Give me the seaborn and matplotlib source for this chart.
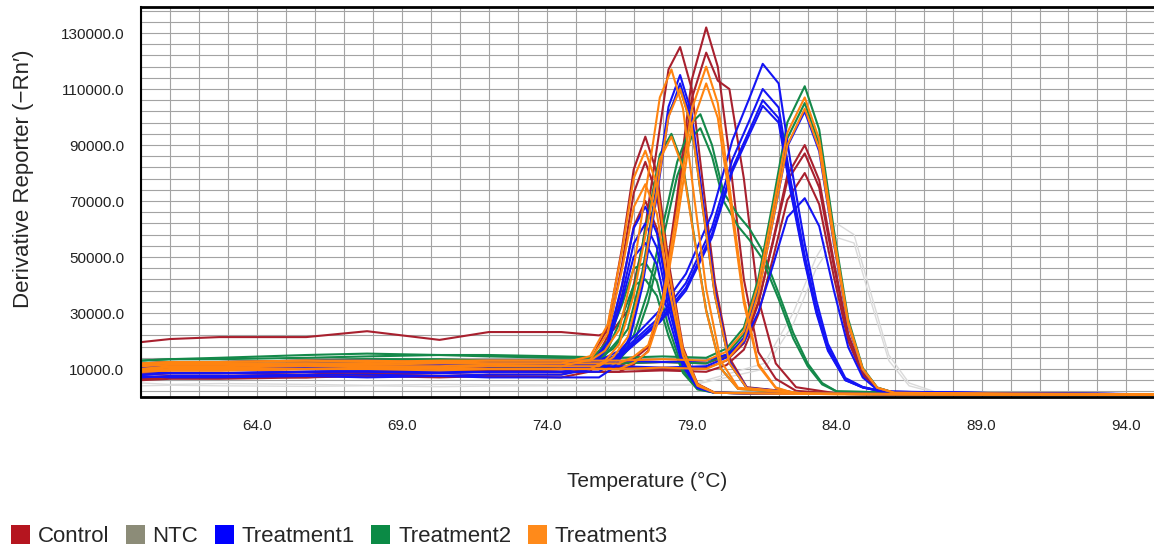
import numpy as np
import pandas as pd
import matplotlib
matplotlib.use("Agg")
import matplotlib.pyplot as plt
from matplotlib.patches import Patch
from matplotlib.ticker import FormatStrFormatter, MultipleLocator
import seaborn as sns

# ---------------- data (values in thousands of -Rn') ----------------
groups = ["Control", "NTC", "Treatment1", "Treatment2", "Treatment3"]

# shared temperature grids (°C)
base_T = [60, 61, 62.7, 65.7, 67.8, 70.3, 72, 74.5]
grid_A = [75.5, 76.1, 76.6, 77.0, 77.4, 77.8, 78.2, 78.7, 79.2, 79.8, 82, 86, 90, 95]
grid_B = [75.8, 76.3, 76.8, 77.3, 77.8, 78.2, 78.6, 79.0, 79.4, 79.8, 80.3, 80.9, 83, 88, 95]
grid_B2 = [75.5, 76.0, 76.5, 77.0, 77.5, 77.9, 78.3, 78.7, 79.1, 79.5, 80.0, 80.6, 83, 88, 95]
grid_C = [76.5, 77.0, 77.5, 78.0, 78.5, 79.0, 79.5, 79.9, 80.3, 80.8, 81.3, 81.9, 82.6, 84, 89, 95]
grid_D = [76.5, 78, 79.5, 80.2, 80.8, 81.3, 81.8, 82.3, 82.9, 83.4, 83.9, 84.4, 84.9, 85.4, 86.0, 90, 95]
grid_E = [75.8, 76.5, 77.2, 77.9, 78.8, 79.7, 80.4, 81.0, 81.45, 82.0, 82.4, 82.9, 83.3, 83.7,
          84.3, 84.9, 85.6, 90, 95]
grid_F = [76.0, 76.5, 77.0, 77.5, 78.0, 78.5, 79.0, 79.3, 79.7, 80.1, 80.6, 81.0, 81.4, 82.0,
          82.5, 83.0, 83.5, 84.0, 88, 95]
grid_N = [76, 79, 81.5, 82.5, 83.3, 84.0, 84.6, 85.1, 85.8, 86.5, 87.5, 90, 95]

# Control
control_grid = ["C", "B", "C", "A", "A", "A", "D", "D", "D"]
control_base = [
    [8, 8.5, 8.5, 9, 8.5, 9, 9.5, 9],
    [19.6, 20.7, 21.4, 21.4, 23.5, 20.4, 23.2, 23.2],
    [7, 7.5, 7.5, 7, 8, 8.5, 9, 10],
    [9, 9.5, 9.5, 10, 9.5, 10, 10.5, 10],
    [6.5, 7, 7, 7.5, 8, 7.5, 8, 8],
    [6, 6.5, 6.5, 7, 7.5, 7, 7.5, 7],
    [10, 10.5, 10.5, 10, 11, 10.5, 10, 10.5],
    [11, 11.5, 11.5, 12, 12, 11.5, 12, 12],
    [8, 8.5, 8.5, 8, 9, 9, 9.5, 9],
]
control_peak = [
    [9, 11.6, 16.5, 35.4, 71.9, 113.2, 132, 118, 86, 42, 16, 6.5, 2.2, 1.2, 1.0, 0.9],
    [22, 24, 31, 54, 89, 117, 125, 110, 75, 41, 14, 3.5, 1.2, 1.0, 0.9],
    [11, 13.5, 17.8, 35.2, 68.7, 106.5, 123, 113, 110, 78, 35, 12, 3.5, 1.3, 1.0, 0.9],
    [12.8, 24.8, 53.5, 81.3, 93, 80, 48.4, 17.7, 4.7, 1.5, 1.2, 1.0, 0.9, 0.8],
    [10.5, 21.5, 47.6, 72.9, 84, 72.2, 43.7, 16.1, 4.4, 1.5, 1.2, 1.0, 0.9, 0.8],
    [9.1, 18.2, 39.9, 60.9, 70, 60.2, 36.4, 13.6, 3.8, 1.5, 1.2, 1.0, 0.9, 0.8],
    [10.5, 10, 10.3, 13, 19.2, 33.4, 55.7, 79.2, 90, 77.4, 48.6, 22.5, 8.7, 3, 1.5, 1.2, 1.0],
    [12, 12.5, 12, 14.6, 20.4, 34, 55, 77.3, 87, 74.8, 47, 21.8, 8.4, 2.9, 1.5, 1.2, 1.0],
    [9, 9.5, 9, 11.4, 16.9, 29.6, 49.4, 70.4, 80, 68.8, 43.2, 20, 7.8, 2.8, 1.5, 1.2, 1.0],
]

# NTC
ntc_grid = ["N", "N"]
ntc_base = [
    [5, 4.5, 4.8, 4.5, 4.2, 4.5, 4.4, 4.3],
    [4, 4.2, 4, 3.8, 4, 3.7, 3.9, 4],
]
ntc_peak = [
    [4.3, 4.5, 12, 30, 50, 62, 58, 40, 15, 5, 1.5, 1.0, 0.9],
    [4, 4.2, 10, 26, 46, 57, 55, 37, 13, 4, 1.3, 1.0, 0.9],
]

# Treatment1
t1_grid = ["B", "B", "E", "E", "E", "E", "D", "D", "A", "A", "A"]
t1_base = [
    [9, 8.5, 8.5, 9, 9.5, 9, 9, 9],
    [7.5, 7, 7, 7.5, 7, 7.5, 7, 7],
    [11, 11.5, 11.5, 12, 12, 12.5, 12, 12.5],
    [10, 10.5, 10.5, 11, 11, 11.5, 11, 11.5],
    [12, 11.5, 11.5, 11, 11.5, 12, 12, 12],
    [9.5, 10, 10, 10.5, 10, 10.5, 11, 11],
    [12, 12.5, 12.5, 13, 13, 12.5, 13, 13],
    [10.5, 11, 11, 11, 10.5, 11, 11, 11],
    [8, 8.5, 8.5, 9, 9, 8.5, 9, 9],
    [7, 7.5, 7.5, 8, 8, 7.5, 8, 8],
    [9.5, 10, 10, 10, 9.5, 10, 10, 10],
]
t1_peak = [
    [9, 12.5, 20, 42.2, 75.3, 103.7, 115, 101.2, 69, 38, 12.7, 3.3, 1.2, 1.0, 0.9],
    [7, 10.4, 17.9, 39.6, 72.1, 100.2, 112, 98.6, 67.2, 37, 12.3, 3.2, 1.2, 1.0, 0.9],
    [13, 16.5, 23.5, 31, 44, 65.5, 91.6, 107, 119, 112, 84.5, 54.7, 34.5, 19, 6.8, 3.6, 2, 1.3, 1.0],
    [12, 15.4, 22, 28.6, 40.7, 60.5, 84.7, 99, 110, 103.4, 78.1, 50.6, 31.9, 17.6, 6.3, 3.4, 1.9, 1.3, 1.0],
    [12, 14.8, 21, 27.5, 39, 58.3, 81.6, 95.4, 106, 99.6, 75.3, 48.8, 30.7, 17, 6, 3.5, 1.9, 1.3, 1.0],
    [11, 14.2, 20.3, 26.7, 38, 57, 80.5, 94, 104, 98, 74, 48, 30, 16.5, 6, 3.4, 1.9, 1.3, 1.0],
    [13, 12.5, 13, 15.1, 19.5, 30.3, 46.9, 64.2, 71, 61, 38.3, 17.8, 7, 2.6, 1.5, 1.2, 1.0],
    [11, 10.5, 11, 14.1, 21.1, 37.4, 62.7, 89.5, 102, 87.7, 55.1, 25.5, 9.7, 3.2, 1.5, 1.2, 1.0],
    [11, 19.7, 40.3, 60.3, 68, 58.5, 35.4, 13.2, 3.7, 1.5, 1.2, 1.0, 0.9, 0.8],
    [9.9, 17.7, 36.6, 54.8, 62, 53.3, 32.2, 12.2, 3.5, 1.5, 1.2, 1.0, 0.9, 0.8],
    [11.7, 18.4, 34.5, 50.1, 55, 47.3, 28.6, 10.9, 3.2, 1.5, 1.2, 1.0, 0.9, 0.8],
]

# Treatment2
t2_grid = ["B", "B2", "D", "D", "A", "A", "F", "F"]
t2_base = [
    [13, 13.5, 13.5, 14, 14.5, 15, 14.5, 14],
    [11, 11.5, 11.5, 12, 12.5, 12, 12, 12],
    [13, 13.5, 14, 15, 15.5, 15, 15, 14.5],
    [11, 11.5, 11.5, 12, 12.5, 12, 12.5, 12],
    [12, 12.5, 12.5, 13, 13.5, 13, 13, 13],
    [10, 10.5, 10.5, 11, 11, 11.5, 11, 11],
    [12, 12.5, 12.5, 13, 13.5, 13.5, 13, 13],
    [10, 10.5, 10.5, 11, 11, 11.5, 11, 11],
]
t2_peak = [
    [14, 17.3, 24.3, 44.9, 75.8, 101.3, 110, 96.8, 66, 36.3, 12.1, 3.2, 1.2, 1.0, 0.9],
    [12, 14.8, 20.8, 38.4, 64.8, 86.6, 94, 82.7, 56.4, 31, 10.3, 2.9, 1.2, 1.0, 0.9],
    [14, 14.5, 14, 17.3, 24.8, 42.3, 69.5, 98.1, 111, 95.5, 60, 27.8, 10.4, 3.4, 1.5, 1.2, 1.0],
    [12, 12.5, 12, 15.2, 22.4, 39, 65, 92.4, 105, 90.3, 56.7, 26.3, 9.9, 3.3, 1.5, 1.2, 1.0],
    [13.1, 19.9, 33.1, 45.9, 48, 41.3, 25, 9.6, 2.9, 1.5, 1.2, 1.0, 0.9, 0.8],
    [11.3, 17, 28.7, 39.9, 42, 36.1, 21.8, 8.6, 2.7, 1.5, 1.2, 1.0, 0.9, 0.8],
    [13, 15.5, 22, 38, 61, 84, 98, 101, 90, 73, 65, 60, 53, 37, 23, 12, 5, 2, 1.2, 1.0],
    [11, 13.5, 19, 34, 56, 79, 93, 96, 86, 70, 61, 56, 50, 35, 21, 11, 4.5, 2, 1.2, 1.0],
]

# Treatment3
t3_grid = ["B2", "B", "C", "C", "A", "A", "D", "D", "B2"]
t3_base = [
    [12, 12.5, 12.5, 13, 12.5, 13, 13, 13],
    [10, 11, 11, 11.5, 11, 11, 11.5, 11],
    [11, 11.5, 11.5, 12, 12, 12.5, 12, 12],
    [9, 9.5, 9.5, 10, 10, 10.5, 10, 10],
    [11.5, 12, 12, 12, 11.5, 12, 12, 12],
    [10, 10.5, 10.5, 11, 11, 10.5, 11, 11],
    [12, 12.5, 12.5, 13, 13, 12.5, 13, 13],
    [9, 9.5, 9.5, 10, 10, 9.5, 10, 10],
    [9.5, 10, 10, 10, 10.5, 10, 10, 10],
]
t3_peak = [
    [13, 16.5, 24, 46.2, 79.3, 107, 117, 103, 70.2, 38.6, 12.9, 3.3, 1.2, 1.0, 0.9],
    [11, 14.3, 21.5, 42.4, 73.7, 100.1, 110, 96.8, 66, 36.3, 12.1, 3.2, 1.2, 1.0, 0.9],
    [12, 14.4, 18.5, 35, 66.8, 102.7, 118, 105, 75.5, 35.4, 11.8, 3.4, 1.2, 1.0, 0.9, 0.8],
    [10, 12.2, 16.2, 32, 62.5, 97, 112, 99.7, 71.7, 33.6, 11.2, 3.2, 1.2, 1.0, 0.9, 0.8],
    [14.6, 25.8, 52.4, 78.2, 88, 75.7, 45.8, 16.8, 4.5, 1.5, 1.2, 1.0, 0.9, 0.8],
    [13.3, 22.8, 45.7, 67.8, 76, 65.4, 39.5, 14.7, 4.0, 1.5, 1.2, 1.0, 0.9, 0.8],
    [13, 13.5, 13, 16.2, 23.5, 40.4, 66.7, 94.4, 107, 92, 57.8, 26.8, 10.1, 3.3, 1.5, 1.2, 1.0],
    [10, 10.5, 10, 13.1, 20.3, 36.8, 62.7, 90, 103, 88.6, 55.6, 25.8, 9.8, 3.3, 1.5, 1.2, 1.0],
    [10, 12.8, 18.8, 36.4, 62.8, 84.9, 93, 81.8, 55.8, 30.7, 10.2, 2.9, 1.2, 1.0, 0.9],
]

y_ticks = [10000, 30000, 50000, 70000, 90000, 110000, 130000]
x_ticks = [64, 69, 74, 79, 84, 89, 94]

# ---------------- build long table ----------------
grids = {"A": grid_A, "B": grid_B, "B2": grid_B2, "C": grid_C, "D": grid_D,
         "E": grid_E, "F": grid_F, "N": grid_N}
series = {
    "NTC": (ntc_grid, ntc_base, ntc_peak),
    "Control": (control_grid, control_base, control_peak),
    "Treatment2": (t2_grid, t2_base, t2_peak),
    "Treatment1": (t1_grid, t1_base, t1_peak),
    "Treatment3": (t3_grid, t3_base, t3_peak),
}
rows = []
for g, (gl, bl, pl) in series.items():
    for i, (gk, b, p) in enumerate(zip(gl, bl, pl)):
        T = base_T + grids[gk]
        V = b + p
        assert len(T) == len(V), (g, i, len(T), len(V))
        for t, v in zip(T, V):
            rows.append({"group": g, "curve": f"{g}-{i}", "T": t, "V": v * 1000})
df = pd.DataFrame(rows)

# ---------------- figure ----------------
sns.set_style("white")
plt.rcParams["font.family"] = ["Liberation Sans", "DejaVu Sans"]

fig = plt.figure(figsize=(11.54, 5.56), dpi=100)
ax = fig.add_axes([141 / 1154, 1 - 397 / 556, 1 - 141 / 1154, 390 / 556])

line_colors = {"Control": "#a8202e", "NTC": "#dadada", "Treatment1": "#1414f5",
               "Treatment2": "#14894a", "Treatment3": "#ff8410"}
order = ["NTC", "Control", "Treatment2", "Treatment1", "Treatment3"]
for g in order:
    sub = df[df.group == g]
    sns.lineplot(data=sub, x="T", y="V", units="curve", estimator=None, sort=False,
                 color=line_colors[g], lw=1.5 if g != "NTC" else 1.0, ax=ax, legend=False)

ax.set_xlim(60, 94.95)
ax.set_ylim(0, 139300)
ax.set_xticks(x_ticks)
ax.xaxis.set_minor_locator(MultipleLocator(1))
ax.set_yticks(y_ticks)
ax.set_yticks(np.arange(2000, 139300, 4000), minor=True)
ax.xaxis.set_major_formatter(FormatStrFormatter("%.1f"))
ax.yaxis.set_major_formatter(FormatStrFormatter("%.1f"))
ax.grid(True, which="both", color="#a3a3a3", lw=0.8)
ax.set_axisbelow(True)

ax.tick_params(axis="both", which="major", length=10, width=0.8, color="#888888",
               labelsize=11, labelcolor="#222222", pad=2, direction="out")
ax.tick_params(axis="both", which="minor", length=6, width=0.8, color="#999999",
               direction="out")
ax.tick_params(axis="x", which="major", length=14)

for s in ["top", "bottom", "left"]:
    ax.spines[s].set_visible(True)
    ax.spines[s].set_color("black")
ax.spines["top"].set_linewidth(2.0)
ax.spines["bottom"].set_linewidth(2.0)
ax.spines["left"].set_linewidth(1.5)
ax.spines["right"].set_visible(False)

ax.set_xlabel("Temperature (°C)", fontsize=15, labelpad=28)
ax.set_ylabel("Derivative Reporter (\u2212Rn\u2032)", fontsize=16, labelpad=4)
ax.yaxis.set_label_coords(-0.106, 0.56)

legend_colors = {"Control": "#b5151f", "NTC": "#8c8c78", "Treatment1": "#0000ff",
                 "Treatment2": "#0b8a45", "Treatment3": "#ff8a1a"}
handles = [Patch(facecolor=legend_colors[g], edgecolor="none") for g in groups]
fig.legend(handles, groups, loc="lower left", bbox_to_anchor=(-0.004, -0.012), ncol=5,
           frameon=False, prop={"size": 16},
           handlelength=0.85, handleheight=0.95, handletextpad=0.35, columnspacing=0.75,
           borderpad=0.2)

fig.savefig("out.png", dpi=100)
